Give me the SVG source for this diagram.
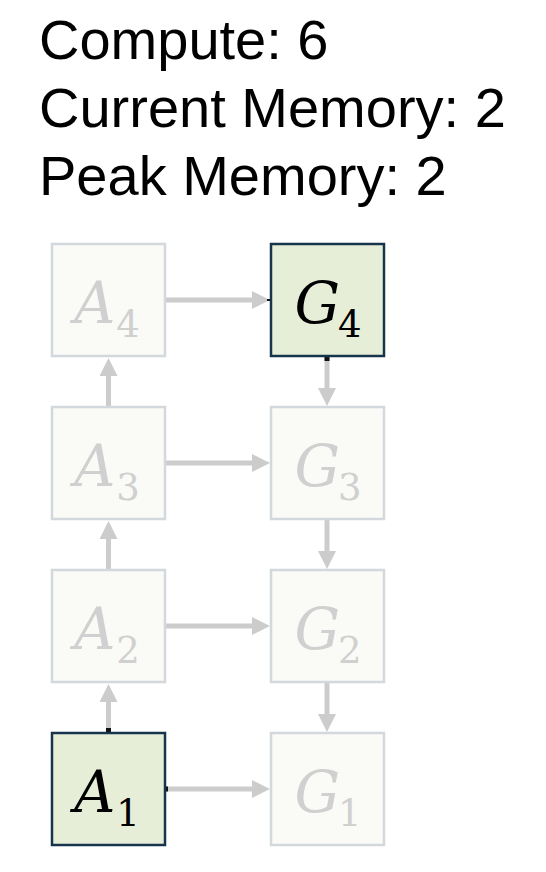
<svg xmlns="http://www.w3.org/2000/svg" width="546" height="872" viewBox="0 0 546 872">
<defs>
<style>
.title{font-family:"Liberation Sans",Arial,sans-serif;font-size:56px;fill:#000}
.box{fill:#fafaf7;stroke:#d3d8dc;stroke-width:2.5}
.act{fill:#e6eed8;stroke:#17344d;stroke-width:2.5}
.lbl{font-family:"DejaVu Serif","Liberation Serif",serif;font-size:57px;font-style:italic;text-anchor:middle}
.sub{font-size:37px;font-style:normal}
.g{fill:#d0d0d0}
.k{fill:#000}
.conn{stroke:#cccccc;stroke-width:5;fill:none}
.tick{fill:#111}
</style>
<marker id="ah" markerUnits="userSpaceOnUse" markerWidth="18" markerHeight="18" refX="0" refY="9" orient="auto">
<path d="M0,0 L18,9 L0,18 z" fill="#cccccc"/>
</marker>
</defs>
<rect width="546" height="872" fill="#fff"/>
<g id="header">
<text class="title" x="39" y="59">Compute: 6</text>
<text class="title" x="39" y="127">Current Memory: 2</text>
<text class="title" x="39" y="195">Peak Memory: 2</text>
</g>
<g id="connectors">
<line class="conn" x1="166" y1="300" x2="252" y2="300" marker-end="url(#ah)"/>
<line class="conn" x1="166" y1="463" x2="252" y2="463" marker-end="url(#ah)"/>
<line class="conn" x1="166" y1="626" x2="252" y2="626" marker-end="url(#ah)"/>
<line class="conn" x1="166" y1="789" x2="252" y2="789" marker-end="url(#ah)"/>
<line class="conn" x1="108.5" y1="407" x2="108.5" y2="376" marker-end="url(#ah)"/>
<line class="conn" x1="108.5" y1="570" x2="108.5" y2="539" marker-end="url(#ah)"/>
<line class="conn" x1="108.5" y1="733" x2="108.5" y2="702" marker-end="url(#ah)"/>
<line class="conn" x1="327" y1="356" x2="327" y2="388" marker-end="url(#ah)"/>
<line class="conn" x1="327" y1="519" x2="327" y2="551" marker-end="url(#ah)"/>
<line class="conn" x1="327" y1="682" x2="327" y2="714" marker-end="url(#ah)"/>
<rect class="tick" x="106" y="728" width="5" height="4"/>
<rect class="tick" x="165" y="786.5" width="3" height="5"/>
<rect class="tick" x="324.5" y="357" width="5" height="4"/>
<rect class="tick" x="267" y="299" width="3" height="2"/>
</g>
<g id="A4"><rect class="box" x="52" y="244" width="113" height="112"/><text class="lbl g" x="107" y="323">A<tspan class="sub" dx="1" dy="14">4</tspan></text></g>
<g id="A3"><rect class="box" x="52" y="407" width="113" height="112"/><text class="lbl g" x="107" y="486">A<tspan class="sub" dx="1" dy="14">3</tspan></text></g>
<g id="A2"><rect class="box" x="52" y="570" width="113" height="112"/><text class="lbl g" x="107" y="649">A<tspan class="sub" dx="1" dy="14">2</tspan></text></g>
<g id="A1"><rect class="act" x="52" y="733" width="113" height="112"/><text class="lbl k" x="107" y="812">A<tspan class="sub" dx="1" dy="14">1</tspan></text></g>
<g id="G4"><rect class="act" x="271" y="244" width="113" height="112"/><text class="lbl k" x="328" y="323">G<tspan class="sub" dx="-2" dy="14">4</tspan></text></g>
<g id="G3"><rect class="box" x="271" y="407" width="113" height="112"/><text class="lbl g" x="328" y="486">G<tspan class="sub" dx="-2" dy="14">3</tspan></text></g>
<g id="G2"><rect class="box" x="271" y="570" width="113" height="112"/><text class="lbl g" x="328" y="649">G<tspan class="sub" dx="-2" dy="14">2</tspan></text></g>
<g id="G1"><rect class="box" x="271" y="733" width="113" height="112"/><text class="lbl g" x="328" y="812">G<tspan class="sub" dx="-2" dy="14">1</tspan></text></g>
</svg>
